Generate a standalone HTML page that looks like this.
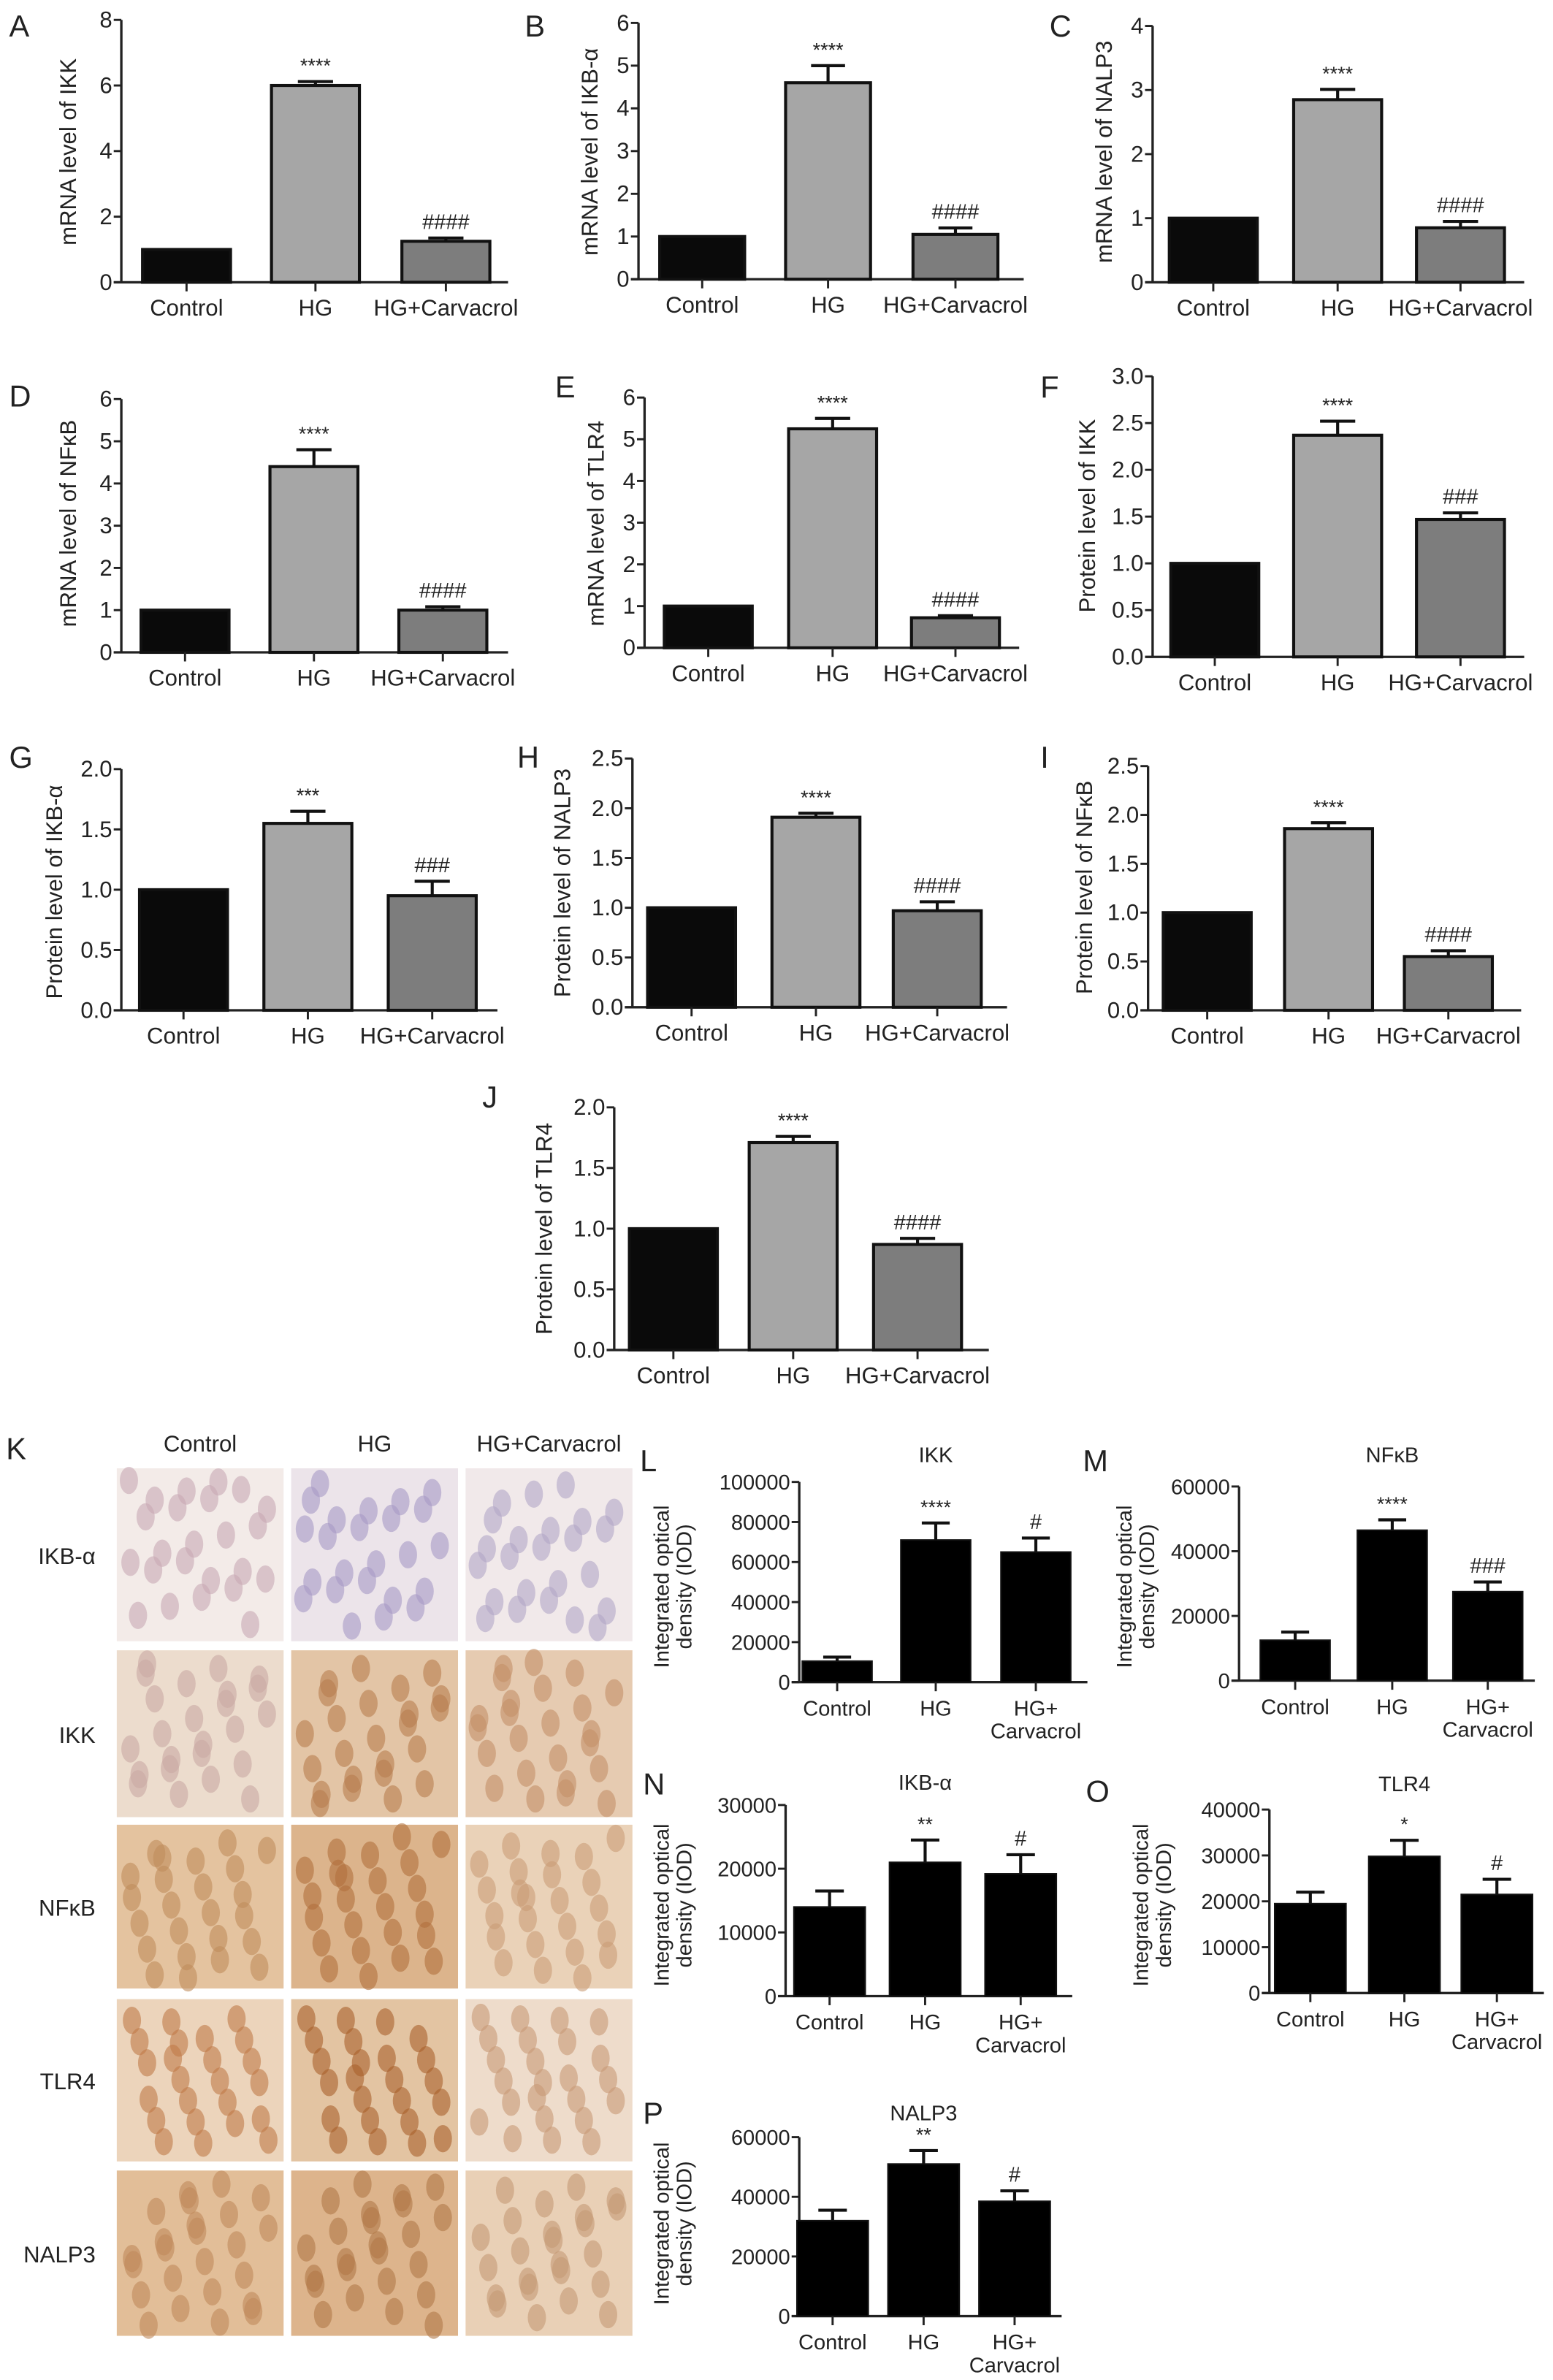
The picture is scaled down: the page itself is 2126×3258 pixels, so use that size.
<!DOCTYPE html>
<html><head><meta charset="utf-8"><style>
html,body{margin:0;padding:0;background:#fff}
svg{display:block}
text{font-family:"Liberation Sans",sans-serif;fill:#222}
</style></head><body>
<svg id="fig" width="2126" height="3258" viewBox="0 0 1024 1569" xmlns="http://www.w3.org/2000/svg"></svg>
<script>
// ---- data ----
const groups = ["Control","HG","HG+Carvacrol"];
const valsA=[1,6.0,1.25], errsA=[0,0.12,0.1];
const valsB=[1,4.6,1.05], errsB=[0,0.4,0.15];
const valsC=[1,2.85,0.85], errsC=[0,0.16,0.1];
const valsD=[1,4.4,1.0], errsD=[0,0.4,0.08];
const valsE=[1,5.25,0.72], errsE=[0,0.25,0.05];
const valsF=[1,2.37,1.47], errsF=[0,0.15,0.07];
const valsG=[1,1.55,0.95], errsG=[0,0.1,0.12];
const valsH=[1,1.91,0.97], errsH=[0,0.04,0.09];
const valsI=[1,1.86,0.55], errsI=[0,0.06,0.06];
const valsJ=[1,1.71,0.87], errsJ=[0,0.05,0.05];
const valsL=[10500,71000,65000], errsL=[2000,8500,7000];
const valsM=[12500,46500,27500], errsM=[2500,3200,3000];
const valsN=[14000,21000,19200], errsN=[2500,3500,3000];
const valsO=[19500,29800,21500], errsO=[2500,3500,3300];
const valsP=[32000,51000,38500], errsP=[3500,4500,3500];
const ticks8=[0,2,4,6,8], ticks6=[0,1,2,3,4,5,6], ticks4=[0,1,2,3,4];
const ticks30=[0,0.5,1.0,1.5,2.0,2.5,3.0], ticks20=[0,0.5,1.0,1.5,2.0], ticks25=[0,0.5,1.0,1.5,2.0,2.5];
const ticks100k=[0,20000,40000,60000,80000,100000], ticks60k=[0,20000,40000,60000], ticks30k=[0,10000,20000,30000], ticks40k=[0,10000,20000,30000,40000];
const annA=["","****","####"], annG=["","***","###"], annF=["","****","###"];
const annL=["","****","#"], annM=["","****","###"], annN=["","**","#"], annO=["","*","#"], annP=["","**","#"];

const svg=document.getElementById('fig');
const NS="http://www.w3.org/2000/svg";
function el(tag,attrs,parent,txt){const e=document.createElementNS(NS,tag);for(const k in attrs)e.setAttribute(k,attrs[k]);if(txt!==undefined)e.textContent=txt;(parent||svg).appendChild(e);return e;}

function chart(p){
  const g=el('g',{},svg);
  
  
  const ymax=p.ticks[p.ticks.length-1];
  const Y=v=>p.y0-(v/ymax)*(p.y0-p.yt);
  const X=i=>p.cx[i];
  const lt=el('text',{x:p.lx,y:p.ly,'font-size':20},g,p.id);
  
  
  // axes
  const ya=el('line',{x1:p.ax,y1:p.y0,x2:p.ax,y2:p.yt,stroke:'#222','stroke-width':1.6},g);
  
  
  const xa=el('line',{x1:p.ax-5,y1:p.y0,x2:p.xe,y2:p.y0,stroke:'#222','stroke-width':1.6},g);
  
  
  p.ticks.forEach(t=>{
    el('line',{x1:p.ax-5,y1:Y(t),x2:p.ax,y2:Y(t),stroke:'#222','stroke-width':1.4},g);
    const tl=el('text',{x:p.ax-6,y:Y(t)+5,'font-size':p.tfs,'text-anchor':'end'},g,p.fmt?p.fmt(t):String(t));
    
    
  });
  // y title
  const yl=p.ylab;
  yl.forEach((s,k)=>{
    const x=p.ytx+k*15;
    const t=el('text',{x:x,y:p.yty,'font-size':p.yfs,'text-anchor':'middle',transform:`rotate(-90 ${x} ${p.yty})`},g,s);
    
    
  });
  if(p.title){const t=el('text',{x:p.cx[1],y:p.titley,'font-size':14,'text-anchor':'middle'},g,p.title);
    }
  p.vals.forEach((v,i)=>{
    const w=p.bw, x=X(i)-w/2;
    const r=el('rect',{x:x,y:Y(v),width:w,height:p.y0-Y(v),fill:p.colors[i],stroke:'#111','stroke-width':p.sw},g);
    
    
    const e=p.errs[i];
    if(e>0){
      el('line',{x1:X(i),y1:Y(v),x2:X(i),y2:Y(v+e),stroke:'#111','stroke-width':2},g);
      const c=el('line',{x1:X(i)-w*0.2,y1:Y(v+e),x2:X(i)+w*0.2,y2:Y(v+e),stroke:'#111','stroke-width':2},g);
      
      
    }
    if(p.ann&&p.ann[i]){const a=el('text',{x:X(i),y:Y(v+e)-6,'font-size':p.ann[i].includes('#')?14:13,'text-anchor':'middle'},g,p.ann[i]);
      }
    el('line',{x1:X(i),y1:p.y0,x2:X(i),y2:p.y0+6,stroke:'#222','stroke-width':1.4},g);
    const labs=p.split&&i===2?["HG+","Carvacrol"]:[groups[i]];
    labs.forEach((s,k)=>{const t=el('text',{x:X(i),y:p.y0+22+k*15,'font-size':p.xfs,'text-anchor':'middle'},g,s);
      });
  });
}
const gray=["#0a0a0a","#a6a6a6","#7d7d7d"], blk=["#000","#000","#000"];
const f1=t=>t.toFixed(1);
const base={bw:58,tfs:15,yfs:15,xfs:15,sw:2,colors:gray};
chart({...base,id:'A',lx:6,ly:24,ax:80,y0:186,yt:13,xe:335,cx:[123,208,294],ticks:ticks8,vals:valsA,errs:errsA,ann:annA,ylab:['mRNA level of IKK'],ytx:50,yty:100});
chart({...base,id:'B',lx:346,ly:24,ax:421,y0:184,yt:15,xe:675,cx:[463,546,630],bw:56,ticks:ticks6,vals:valsB,errs:errsB,ann:annA,ylab:['mRNA level of IKB-α'],ytx:394,yty:100});
chart({...base,id:'C',lx:692,ly:24,ax:760,y0:186,yt:17,xe:1005,cx:[800,882,963],ticks:ticks4,vals:valsC,errs:errsC,ann:annA,ylab:['mRNA level of NALP3'],ytx:733,yty:100});
chart({...base,id:'D',lx:6,ly:268,ax:80,y0:430,yt:263,xe:335,cx:[122,207,292],ticks:ticks6,vals:valsD,errs:errsD,ann:annA,ylab:['mRNA level of NFκB'],ytx:50,yty:345});
chart({...base,id:'E',lx:366,ly:262,ax:425,y0:427,yt:262,xe:672,cx:[467,549,630],ticks:ticks6,vals:valsE,errs:errsE,ann:annA,ylab:['mRNA level of TLR4'],ytx:398,yty:345});
chart({...base,id:'F',lx:686,ly:262,ax:760,y0:433,yt:248,xe:1005,cx:[801,882,963],ticks:ticks30,fmt:f1,vals:valsF,errs:errsF,ann:annF,ylab:['Protein level of IKK'],ytx:722,yty:340});
chart({...base,id:'G',lx:6,ly:506,ax:80,y0:666,yt:507,xe:328,cx:[121,203,285],ticks:ticks20,fmt:f1,vals:valsG,errs:errsG,ann:annG,ylab:['Protein level of IKB-α'],ytx:41,yty:588});
chart({...base,id:'H',lx:341,ly:506,ax:417,y0:664,yt:500,xe:664,cx:[456,538,618],ticks:ticks25,fmt:f1,vals:valsH,errs:errsH,ann:annA,ylab:['Protein level of NALP3'],ytx:376,yty:582});
chart({...base,id:'I',lx:686,ly:506,ax:757,y0:666,yt:505,xe:1003,cx:[796,876,955],ticks:ticks25,fmt:f1,vals:valsI,errs:errsI,ann:annA,ylab:['Protein level of NFκB'],ytx:720,yty:585});
chart({...base,id:'J',lx:318,ly:730,ax:405,y0:890,yt:730,xe:652,cx:[444,523,605],ticks:ticks20,fmt:f1,vals:valsJ,errs:errsJ,ann:annA,ylab:['Protein level of TLR4'],ytx:364,yty:810});
const base2={bw:46,tfs:14,yfs:14,xfs:14,sw:1,colors:blk,split:true};
chart({...base2,id:'L',lx:422,ly:970,ax:527,y0:1109,yt:977,xe:717,cx:[552,617,683],ticks:ticks100k,vals:valsL,errs:errsL,ann:annL,title:'IKK',titley:964,ylab:['Integrated optical','density (IOD)'],ytx:441,yty:1046});
chart({...base2,id:'M',lx:714,ly:970,ax:817,y0:1108,yt:980,xe:1012,cx:[854,918,981],ticks:ticks60k,vals:valsM,errs:errsM,ann:annM,title:'NFκB',titley:964,ylab:['Integrated optical','density (IOD)'],ytx:746,yty:1046});
chart({...base2,id:'N',lx:424,ly:1183,ax:518,y0:1316,yt:1190,xe:707,cx:[547,610,673],bw:47,ticks:ticks30k,vals:valsN,errs:errsN,ann:annN,title:'IKB-α',titley:1180,ylab:['Integrated optical','density (IOD)'],ytx:441,yty:1256});
chart({...base2,id:'O',lx:716,ly:1188,ax:837,y0:1314,yt:1193,xe:1018,cx:[864,926,987],bw:47,ticks:ticks40k,vals:valsO,errs:errsO,ann:annO,title:'TLR4',titley:1181,ylab:['Integrated optical','density (IOD)'],ytx:757,yty:1256});
chart({...base2,id:'P',lx:424,ly:1400,ax:527,y0:1527,yt:1409,xe:700,cx:[549,609,669],bw:47,ticks:ticks60k,vals:valsP,errs:errsP,ann:annP,title:'NALP3',titley:1398,ylab:['Integrated optical','density (IOD)'],ytx:441,yty:1466});

// ---- panel K: IHC images ----
const kg=el('g',{},svg);


el('text',{x:4,y:962,'font-size':20},kg,'K');
const colX=[77,192,307], colW=110;
const rowY=[968,1088,1203,1318,1431], rowH=[114,110,108,107,109];
const rowNames=["IKB-α","IKK","NFκB","TLR4","NALP3"];
const bg=[["#f3ebe8","#ece4ea","#f1e9ea"],["#ecdccd","#e3c5a6","#e6cbb1"],["#e4c39f","#dcb48c","#ead2b8"],["#ecd4bb","#e3c4a2","#eedccb"],["#e2be98","#ddb48c","#e9d0b6"]];
const cellC=[["#c8a9b4","#a79ac4","#b3a6c6"],["#c9a8a4","#b87d4f","#c39068"],["#c08c5c","#b0703c","#c99c76"],["#c07a48","#a8602c","#c89a76"],["#c0885a","#b07848","#c59a74"]];
["Control","HG","HG+Carvacrol"].forEach((s,c)=>{const t=el('text',{x:colX[c]+colW/2,y:957,'font-size':15,'text-anchor':'middle'},kg,s);
  });
rowNames.forEach((n,r)=>{
  const t=el('text',{x:63,y:rowY[r]+rowH[r]/2+6,'font-size':15,'text-anchor':'end'},kg,n);
  
  for(let c=0;c<3;c++){
    const im=el('rect',{x:colX[c],y:rowY[r],width:colW,height:rowH[r],fill:bg[r][c]},kg);
    
    
    for(let k=0;k<24;k++){
      const cx=colX[c]+8+((k*37+r*11+c*5)%95), cy=rowY[r]+8+((k*53+r*7+c*13)%(rowH[r]-14));
      el('ellipse',{cx:cx,cy:cy,rx:6,ry:9,fill:cellC[r][c],opacity:0.6},kg);
    }
  }
});
</script>
</body></html>
